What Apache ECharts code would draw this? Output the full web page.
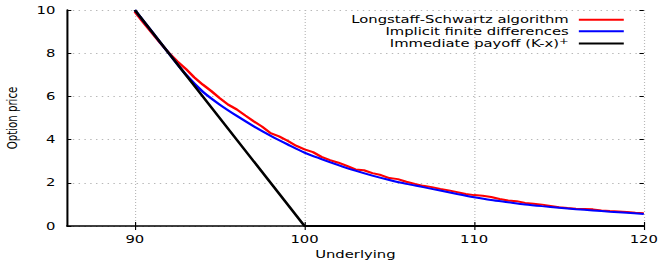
<!DOCTYPE html>
<html>
<head>
<meta charset="utf-8">
<script src="https://cdn.jsdelivr.net/npm/echarts@6/dist/echarts.min.js"></script>
<style>
  html, body { margin: 0; padding: 0; background: #fff; overflow: hidden; }
  /* the original picture is stretched sideways, so draw narrow and widen it */
  #chart { width: 454.5px; height: 263px; transform: scaleX(1.45); transform-origin: 0 0; }
</style>
</head>
<body>
<div id="chart"></div>
<script>
// values
var lsX = [90, 90.5, 91, 91.5, 92, 92.5, 93, 93.5, 94, 94.5, 95, 95.5, 96, 96.5, 97, 97.5, 98, 98.5, 99, 99.5,
  100, 100.5, 101, 101.5, 102, 102.5, 103, 103.5, 104, 104.5, 105, 105.5, 106, 106.5, 107, 107.5, 108, 108.5, 109, 109.5,
  110, 110.5, 111, 111.5, 112, 112.5, 113, 113.5, 114, 114.5, 115, 115.5, 116, 116.5, 117, 117.5, 118, 118.5, 119, 119.5, 120];
var lsY = [9.92, 9.42, 8.95, 8.47, 8.02, 7.62, 7.28, 6.88, 6.55, 6.25, 5.92, 5.62, 5.4, 5.12, 4.85, 4.6, 4.3, 4.15, 3.95, 3.72,
  3.55, 3.42, 3.2, 3.05, 2.93, 2.78, 2.62, 2.58, 2.45, 2.36, 2.22, 2.17, 2.05, 1.95, 1.86, 1.8, 1.72, 1.65, 1.57, 1.48,
  1.43, 1.4, 1.34, 1.25, 1.18, 1.15, 1.07, 1.03, 0.99, 0.93, 0.87, 0.83, 0.8, 0.79, 0.77, 0.72, 0.69, 0.67, 0.65, 0.61, 0.59];

var fdX = [90, 91, 92, 93, 94, 95, 96, 97, 98, 99, 100, 101, 102, 103, 104, 105, 106, 107, 108, 109,
  110, 111, 112, 113, 114, 115, 116, 117, 118, 119, 120];
var fdY = [10.0, 9.0, 8.0, 7.02, 6.22, 5.62, 5.1, 4.62, 4.18, 3.78, 3.4, 3.1, 2.82, 2.56, 2.33, 2.13, 1.95, 1.8, 1.64, 1.48,
  1.33, 1.2, 1.1, 1.0, 0.92, 0.85, 0.78, 0.72, 0.66, 0.61, 0.56];

var payX = [90, 100, 120];
var payY = [10, 0, 0];

var xTicks = [90, 100, 110, 120];

function zip(xs, ys) {
  return xs.map(function (x, i) { return [x, ys[i]]; });
}

var font = 'DejaVu Sans';
var fs = 10.2;
var payName = 'Immediate payoff (K-x)+';

var chart = echarts.init(document.getElementById('chart'), null, { renderer: 'svg' });
chart.setOption({
  animation: false,
  grid: { left: 46.2, right: 11, top: 10, bottom: 37, outerBoundsMode: 'none' },
  legend: {
    orient: 'vertical',
    right: 24.8,
    top: 14,
    padding: 0,
    align: 'right',
    itemWidth: 31,
    itemHeight: 2,
    itemGap: 0,
    icon: 'rect',
    formatter: function (name) {
      // raise the "+" like a superscript
      if (name === payName) return '{t|Immediate payoff (K-x)}{s|+}';
      return '{t|' + name + '}';
    },
    textStyle: {
      fontFamily: font, fontSize: fs, color: '#000', lineHeight: 11.5, padding: [0, 2, 0, 0],
      rich: {
        t: { fontFamily: font, fontSize: fs, color: '#000', lineHeight: 11.5 },
        s: { fontFamily: font, fontSize: 8, color: '#000', lineHeight: 11.5, padding: [0, 0, 5, 0] }
      }
    },
    data: ['Longstaff-Schwartz algorithm', 'Implicit finite differences', payName]
  },
  xAxis: [{
    type: 'value',
    min: 86,
    max: 120,
    name: 'Underlying',
    nameLocation: 'middle',
    nameGap: 22,
    nameTextStyle: { fontFamily: font, fontSize: fs, color: '#000' },
    axisLine: { show: true, onZero: false, lineStyle: { color: '#000', width: 1.5 } },
    axisTick: { show: true, inside: true, length: 4, customValues: xTicks, lineStyle: { color: '#000', width: 0.8 } },
    axisLabel: { customValues: xTicks, fontFamily: font, fontSize: fs, color: '#000', margin: 8 },
    splitLine: { show: true, lineStyle: { color: '#b8b8b8', type: [1, 2], width: 0.8 } }
  }, {
    type: 'value',
    position: 'top',
    min: 86,
    max: 120,
    axisLine: { show: false },
    axisTick: { show: true, inside: true, length: 4, customValues: xTicks, lineStyle: { color: '#000', width: 0.8 } },
    axisLabel: { show: false },
    splitLine: { show: false }
  }],
  yAxis: [{
    type: 'value',
    min: 0,
    max: 10,
    interval: 2,
    name: 'Option price',
    nameLocation: 'middle',
    nameGap: 33,
    nameTextStyle: { fontFamily: font, fontSize: fs, color: '#000' },
    axisLine: { show: true, onZero: false, lineStyle: { color: '#000', width: 1.4 } },
    axisTick: { show: true, inside: true, length: 3, lineStyle: { color: '#000' } },
    axisLabel: { fontFamily: font, fontSize: fs, color: '#000', margin: 8 },
    splitLine: { show: true, lineStyle: { color: '#b8b8b8', type: [1, 3], width: 1 } }
  }, {
    type: 'value',
    position: 'right',
    min: 0,
    max: 10,
    interval: 2,
    axisLine: { show: false },
    axisTick: { show: true, inside: true, length: 3, lineStyle: { color: '#000' } },
    axisLabel: { show: false },
    splitLine: { show: false }
  }],
  series: [{
    name: 'Longstaff-Schwartz algorithm',
    type: 'line',
    data: zip(lsX, lsY),
    showSymbol: false,
    color: '#ff0000',
    lineStyle: { width: 2 }
  }, {
    name: 'Implicit finite differences',
    type: 'line',
    data: zip(fdX, fdY),
    showSymbol: false,
    smooth: 0.3,
    color: '#0000ff',
    lineStyle: { width: 2 }
  }, {
    name: payName,
    type: 'line',
    data: zip(payX, payY),
    showSymbol: false,
    color: '#000000',
    lineStyle: { width: 2 }
  }]
});
</script>
</body>
</html>
